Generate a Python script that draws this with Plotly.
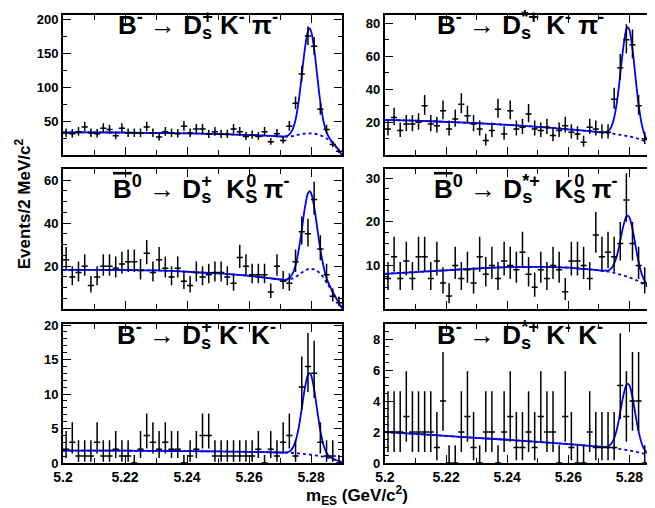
import plotly.graph_objects as go
from plotly.subplots import make_subplots

# ---------------- data ----------------
BIN_START = 5.200
BIN_WIDTH = 0.002
N_BINS = 45
bin_centers = [round(BIN_START + BIN_WIDTH * (i + 0.5), 4) for i in range(N_BINS)]

counts_p1 = [33, 32, 35, 42, 33, 32, 40, 38, 29, 40,
             33, 33, 33, 42, 33, 27, 35, 33, 32, 43,
             33, 39, 39, 31, 35, 31, 31, 39, 35, 28,
             30, 28, 35, 20, 32, 22, 43, 77, 120, 176,
             161, 68, 38, 16, 6]
counts_p2 = [16, 23, 15, 19, 19, 20, 30, 19, 18, 27,
             16, 22, 31, 24, 19, 16, 9, 15, 28, 13,
             27, 16, 17, 25, 16, 15, 17, 12, 15, 18,
             14, 13, 8, 17, 16, 14, 14, 34, 53, 70,
             67, 30, 10, 6, 2]
counts_p3 = [23, 15, 17, 20, 11, 15, 20, 20, 19, 21,
             22, 22, 18, 26, 17, 23, 19, 15, 19, 13,
             11, 17, 15, 16, 17, 17, 15, 12, 24, 20,
             16, 16, 16, 8, 20, 13, 12, 22, 36, 35,
             51, 28, 16, 6, 3]
counts_p4 = [7, 12, 7, 11, 7, 12, 12, 7, 11, 6,
             3, 10, 7, 9, 6, 12, 8, 10, 7, 11,
             10, 9, 13, 8, 5, 9, 7, 10, 9, 4,
             11, 11, 10, 7, 17, 12, 13, 12, 15, 25,
             15, 10, 6, 2, 1]
counts_p5 = [2, 3, 1, 1, 1, 3, 1, 1, 2, 1,
             1, 0, 2, 4, 3, 2, 3, 2, 2, 0,
             1, 2, 4, 4, 1, 1, 1, 1, 1, 1,
             1, 2, 0, 2, 1, 3, 4, 1, 11, 14,
             13, 3, 1, 1, 0]
counts_p6 = [2, 2, 2, 3, 2, 2, 2, 2, 1, 4,
             0, 0, 2, 3, 1, 0, 2, 2, 0, 2,
             3, 1, 1, 2, 1, 3, 2, 2, 0, 3,
             1, 0, 0, 2, 1, 1, 1, 1, 5, 3,
             4, 4, 0, 1, 0]

knot_x = [5.200, 5.210, 5.220, 5.230, 5.240, 5.250, 5.260, 5.265, 5.270,
          5.271, 5.272, 5.273, 5.274, 5.275, 5.276, 5.277, 5.278, 5.279,
          5.2795,
          5.280, 5.281, 5.282, 5.283, 5.284, 5.285, 5.286, 5.287, 5.288, 5.289, 5.290]

bkg_p1 = [34, 34, 33.5, 33, 32.5, 31.5, 30, 29, 28,
          27.5, 27.5, 28, 28.5, 29.5, 30.5, 31.5, 32, 32.5,
          32.5,
          32.5, 32, 31, 29.5, 27.5, 25, 22, 18, 13, 7, 0]
fit_p1 = [34, 34, 33.5, 33, 32.5, 31.5, 30, 29, 28,
          27.7, 28.3, 31, 37.5, 52.5, 79.5, 117.5, 157, 183.5,
          187.5,
          183.5, 157, 117, 78.5, 50.5, 34, 25, 18.8, 13.2, 7, 0]

bkg_p2 = [21.5, 21, 20.3, 19.5, 18.5, 17.3, 15.8, 15, 14,
          13.8, 13.6, 13.4, 13.2, 13, 12.7, 12.4, 12.1, 11.8,
          11.6,
          11.4, 11, 10.5, 10, 9.3, 8.5, 7.6, 6.5, 5.2, 3.5, 1.5]
fit_p2 = [21.5, 21, 20.3, 19.5, 18.5, 17.3, 15.8, 15, 14,
          13.9, 13.9, 14.6, 17, 22.8, 33.4, 49, 65.4, 76.3,
          77.6,
          75.9, 64.3, 47.1, 30.7, 19.1, 12.3, 8.8, 6.8, 5.3, 3.5, 1.5]

bkg_p3 = [18.3, 18.3, 18.2, 18, 17.4, 16.6, 15.5, 14.7, 13.8,
          13.6, 13.6, 13.8, 14.3, 15, 16, 17, 18, 18.6,
          18.8,
          18.8, 18.5, 17.8, 16.5, 14.8, 12.5, 10.2, 7.8, 5.3, 2.8, 0.5]
fit_p3 = [18.3, 18.3, 18.2, 18, 17.4, 16.6, 15.5, 14.7, 13.8,
          13.6, 13.8, 14.5, 16.4, 20.3, 27.3, 36.9, 47.1, 53.8,
          54.8,
          54, 47.6, 37.7, 27.8, 20.1, 14.5, 10.9, 8, 5.4, 2.8, 0.5]

bkg_p4 = [8.1, 8.5, 8.9, 9.3, 9.6, 9.7, 9.5, 9.2, 8.9,
          8.8, 8.7, 8.6, 8.5, 8.3, 8.1, 7.9, 7.7, 7.5,
          7.4,
          7.3, 7.0, 6.7, 6.4, 6.0, 5.6, 5.1, 4.6, 4.0, 3.3, 2.6]
fit_p4 = [8.1, 8.5, 8.9, 9.3, 9.6, 9.7, 9.5, 9.2, 8.9,
          8.8, 8.8, 8.85, 9.3, 10.4, 12.5, 15.7, 19, 21.2,
          21.4,
          21, 18.3, 14.5, 10.8, 8.1, 6.4, 5.35, 4.7, 4.0, 3.3, 2.6]

bkg_p5 = [1.8, 1.8, 1.78, 1.75, 1.72, 1.68, 1.62, 1.58, 1.52,
          1.5, 1.49, 1.47, 1.45, 1.42, 1.39, 1.35, 1.3, 1.25,
          1.22,
          1.2, 1.13, 1.06, 0.98, 0.9, 0.8, 0.7, 0.58, 0.43, 0.27, 0.05]
fit_p5 = [1.8, 1.8, 1.78, 1.75, 1.72, 1.68, 1.62, 1.58, 1.52,
          1.51, 1.55, 1.68, 2.12, 3.17, 5.09, 7.89, 10.83, 12.78,
          13.02,
          12.73, 10.66, 7.6, 4.68, 2.65, 1.47, 0.91, 0.64, 0.44, 0.27, 0.05]

bkg_p6 = [2.0, 1.88, 1.75, 1.62, 1.5, 1.36, 1.22, 1.14, 1.06,
          1.04, 1.02, 1.0, 0.98, 0.96, 0.93, 0.9, 0.87, 0.84,
          0.83,
          0.81, 0.77, 0.73, 0.69, 0.64, 0.59, 0.53, 0.47, 0.4, 0.33, 0.25]
fit_p6 = [2.0, 1.88, 1.75, 1.62, 1.5, 1.36, 1.22, 1.14, 1.06,
          1.04, 1.04, 1.08, 1.23, 1.6, 2.28, 3.28, 4.34, 5.04,
          5.13,
          5.01, 4.24, 3.11, 2.04, 1.28, 0.84, 0.61, 0.49, 0.4, 0.33, 0.25]

OVB = "<span style='text-decoration:overline'>B</span>"
SUB_S = "<sub><span style='letter-spacing:-10px'>s</span></sub>"
SUB_S2 = "<sub><span style='letter-spacing:-11px'>S</span></sub>"
titles = [
    "<b>B<sup>-</sup> → D" + SUB_S + "<sup>+</sup> K<sup>-</sup> π<sup>-</sup></b>",
    "<b>B<sup>-</sup> → D" + SUB_S + "<sup>*+</sup> K<sup>-</sup> π<sup>-</sup></b>",
    "<b>" + OVB + "<sup>0</sup> → D" + SUB_S + "<sup>+</sup>  K" + SUB_S2 + "<sup>0</sup> π<sup>-</sup></b>",
    "<b>" + OVB + "<sup>0</sup> → D" + SUB_S + "<sup>*+</sup>  K" + SUB_S2 + "<sup>0</sup> π<sup>-</sup></b>",
    "<b>B<sup>-</sup> → D" + SUB_S + "<sup>+</sup> K<sup>-</sup> K<sup>-</sup></b>",
    "<b>B<sup>-</sup> → D" + SUB_S + "<sup>*+</sup> K<sup>-</sup> K<sup>-</sup></b>",
]

y_ranges = [[0, 207], [0, 85], [0, 65], [0, 32], [0, 20.2], [0, 9.0]]
y_tickvals = [[50, 100, 150, 200], [20, 40, 60, 80], [20, 40, 60],
              [10, 20, 30], [0, 5, 10, 15, 20], [0, 2, 4, 6, 8]]
y_minor = [25, 10, 5, 2.5, 1, 0.5]

x_tickvals = [5.20, 5.22, 5.24, 5.26, 5.28]
x_ticktext = ["5.2", "5.22", "5.24", "5.26", "5.28"]

counts_all = [counts_p1, counts_p2, counts_p3, counts_p4, counts_p5, counts_p6]
bkg_all = [bkg_p1, bkg_p2, bkg_p3, bkg_p4, bkg_p5, bkg_p6]
fit_all = [fit_p1, fit_p2, fit_p3, fit_p4, fit_p5, fit_p6]

# ---------------- helpers ----------------
POISSON_TABLE = {0: (0.0, 1.148), 1: (0.173, 3.300), 2: (0.708, 4.638),
                 3: (1.367, 5.918), 4: (2.086, 7.163), 5: (2.840, 8.382)}


def poisson_interval(n):
    if n in POISSON_TABLE:
        return POISSON_TABLE[n]
    return (n - (n - 0.25) ** 0.5, n + 1 + (n + 0.75) ** 0.5)


W, H = 655, 508
ML, MR, MT, MB = 55, 1, 5, 53
PW, PH = W - ML - MR, H - MT - MB


def px_x(p):
    return (p - ML) / PW


def px_y(p):
    return (H - MB - p) / PH


col_px = [(55, 335), (378, 654)]
row_px = [(5, 146), (160, 300.5), (315, 455)]

FONT = "Liberation Sans, Arial, Helvetica, sans-serif"
BLUE = "rgb(0,0,255)"

fig = make_subplots(rows=3, cols=2)

for idx in range(6):
    r, c = idx // 2 + 1, idx % 2 + 1
    counts = counts_all[idx]
    lo_err, hi_err = [], []
    for n in counts:
        lo, hi = poisson_interval(n)
        lo_err.append(n - lo)
        hi_err.append(hi - n)

    fig.add_trace(go.Scatter(x=knot_x, y=bkg_all[idx], mode="lines",
                             line=dict(color=BLUE, width=1.8, dash="dot",
                                       shape="spline", smoothing=1.0),
                             hoverinfo="skip", showlegend=False), row=r, col=c)
    fig.add_trace(go.Scatter(x=knot_x, y=fit_all[idx], mode="lines",
                             line=dict(color=BLUE, width=1.8,
                                       shape="spline", smoothing=1.0),
                             hoverinfo="skip", showlegend=False), row=r, col=c)
    fig.add_trace(go.Scatter(x=bin_centers, y=counts, mode="markers",
                             marker=dict(size=2, color="black"),
                             error_y=dict(type="data", symmetric=False,
                                          array=hi_err, arrayminus=lo_err,
                                          color="#000000", thickness=1.5, width=0),
                             error_x=dict(type="constant", value=BIN_WIDTH / 2,
                                          color="#000000", thickness=1.5, width=0),
                             showlegend=False), row=r, col=c)

    x0, x1 = col_px[c - 1]
    y0, y1 = row_px[r - 1]
    axis_common = dict(showline=True, linewidth=2, linecolor="black",
                       mirror="allticks", ticks="inside", ticklen=8,
                       tickwidth=1.2, tickcolor="black", showgrid=False,
                       zeroline=False)
    fig.update_xaxes(domain=[px_x(x0), px_x(x1)], range=[5.2, 5.29],
                     tickvals=x_tickvals, ticktext=x_ticktext,
                     showticklabels=(r == 3),
                     tickfont=dict(family=FONT, size=14, color="black", weight="bold"),
                     minor=dict(ticks="inside", ticklen=5, tick0=5.2, dtick=0.01,
                                tickcolor="black", tickwidth=1, showgrid=False),
                     row=r, col=c, **axis_common)
    fig.update_yaxes(domain=[px_y(y1), px_y(y0)], range=y_ranges[idx],
                     tickvals=y_tickvals[idx],
                     tickfont=dict(family=FONT, size=13, color="black", weight="bold"),
                     minor=dict(ticks="inside", ticklen=4, tick0=0,
                                dtick=y_minor[idx], tickcolor="black",
                                tickwidth=1, showgrid=False),
                     row=r, col=c, **axis_common)

# panel titles (left edge, vertical middle in pixels)
title_lx = [108, 428, 103, 425, 107, 428]
title_cy = [15, 180, 326]
annotations = []
for idx in range(6):
    r = idx // 2
    annotations.append(dict(text=titles[idx], xref="paper", yref="paper",
                            x=px_x(title_lx[idx]), y=px_y(title_cy[r]),
                            xanchor="left", yanchor="middle", showarrow=False,
                            font=dict(family=FONT, size=26, color="black")))

annotations.append(dict(text="<b>Events/2 MeV/c<sup>2</sup></b>", xref="paper", yref="paper",
                        x=px_x(15), y=px_y(195), xanchor="center", yanchor="middle",
                        textangle=-90, showarrow=False,
                        font=dict(family=FONT, size=17, color="black")))
annotations.append(dict(text="<b>m<sub>ES</sub> (GeV/c<sup>2</sup>)</b>", xref="paper", yref="paper",
                        x=px_x(350), y=px_y(488), xanchor="center", yanchor="middle",
                        showarrow=False,
                        font=dict(family=FONT, size=17, color="black")))

fig.update_layout(width=W, height=H,
                  margin=dict(l=ML, r=MR, t=MT, b=MB),
                  paper_bgcolor="white", plot_bgcolor="white",
                  annotations=annotations, showlegend=False)

fig.write_html("out.html")
